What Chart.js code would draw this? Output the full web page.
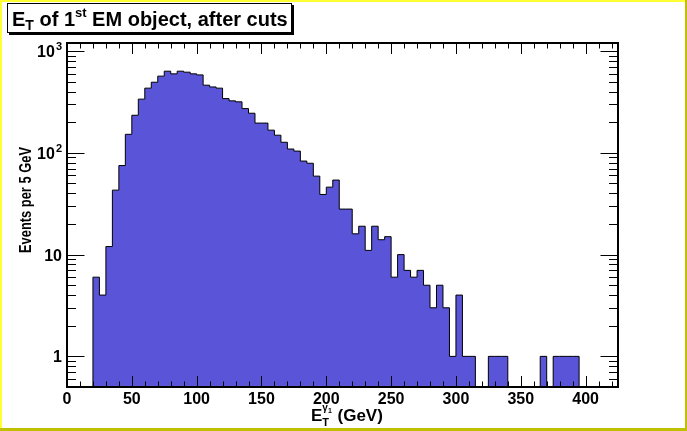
<!DOCTYPE html>
<html><head><meta charset="utf-8">
<script src="https://cdn.jsdelivr.net/npm/chart.js@4/dist/chart.umd.min.js"></script>
<style>html,body{margin:0;padding:0;background:#fff;overflow:hidden}#wrap{width:687px;height:431px;position:relative}canvas{display:block}</style>
</head><body><div id="wrap"><canvas id="c" width="687" height="431"></canvas></div>
<script>
// ---- data ----
const BIN_WIDTH = 5; // GeV
const BIN_LOW_EDGES = [20,25,30,35,40,45,50,55,60,65,70,75,80,85,90,95,100,105,110,115,120,125,130,135,140,145,150,155,160,165,170,175,180,185,190,195,200,205,210,215,220,225,230,235,240,245,250,255,260,265,270,275,280,285,290,295,300,305,310,315,320,325,330,335,340,345,350,355,360,365,370,375,380,385,390,395];
const EVENTS = [6,4,12,43,75,152,234,337,432,494,567,634,597,634,620,597,583,462,444,432,341,324,317,272,245,196,196,167,149,127,109,104,83,79,59,39,46,54,28,28,16,19,11,19,14,15,6,10,7,6,7,5,3,5,3,1,4,1,1,0,0,1,1,1,0,0,0,0,0,1,0,1,1,1,1,0];
const X_TICKS = [0,50,100,150,200,250,300,350,400];
const Y_TICKS = [1,10,100,1000];
const Y_TICK_BASE = ['1','10','10','10'];
const Y_TICK_EXP = ['','','2','3'];
const X_RANGE = [0,425];
const Y_RANGE = [0.5,1200];
const Y_TITLE = 'Events per 5 GeV';

const FONT = '"Liberation Sans", Arial, Helvetica, sans-serif';
const FILL = '#5954d8';

// stepped outline points built from the bins
const points = [{x: BIN_LOW_EDGES[0], y: Y_RANGE[0]}];
BIN_LOW_EDGES.forEach((e,i)=>points.push({x:e, y: Math.max(EVENTS[i], Y_RANGE[0])}));
points.push({x: BIN_LOW_EDGES[BIN_LOW_EDGES.length-1] + BIN_WIDTH, y: Y_RANGE[0]});

function richText(ctx, parts, x, y){
  let cx = x;
  for (const p of parts){
    ctx.font = 'bold ' + p.size + 'px ' + FONT;
    ctx.fillText(p.t, cx, y + (p.dy||0));
    cx += ctx.measureText(p.t).width;
  }
  return cx;
}

const decor = {
  id:'decor',
  beforeDraw(chart){
    const ctx = chart.ctx, W = chart.width, H = chart.height;
    ctx.save();
    ctx.fillStyle = '#ffffff'; ctx.fillRect(0,0,W,H);
    ctx.fillStyle = '#c0c000';
    ctx.fillRect(W-2,0,2,H); ctx.fillRect(0,H-3,W,3);
    ctx.fillStyle = '#ffff33';
    ctx.fillRect(0,0,W-2,2); ctx.fillRect(0,0,2,H-3);
    ctx.restore();
  },
  afterDraw(chart){
    const ctx = chart.ctx, a = chart.chartArea;
    const xs = chart.scales.x, ys = chart.scales.y;
    ctx.save();
    ctx.strokeStyle = '#000'; ctx.lineWidth = 1;
    // x ticks (bottom & top)
    ctx.beginPath();
    for (let v = X_RANGE[0]; v <= X_RANGE[1]; v += 10){
      const px = Math.round(xs.getPixelForValue(v)) + 0.5;
      const len = (v % 50 === 0) ? 11 : 5.5;
      ctx.moveTo(px, a.bottom); ctx.lineTo(px, a.bottom - len);
      ctx.moveTo(px, a.top); ctx.lineTo(px, a.top + len);
    }
    // y ticks (left & right)
    for (let d = 0.1; d <= 1000; d *= 10){
      for (let m = 1; m <= 9; m++){
        const v = d*m;
        if (v < Y_RANGE[0] || v > Y_RANGE[1]) continue;
        const py = Math.round(ys.getPixelForValue(v)) + 0.5;
        const len = (m === 1) ? 17.5 : 9;
        ctx.moveTo(a.left, py); ctx.lineTo(a.left + len, py);
        ctx.moveTo(a.right, py); ctx.lineTo(a.right - len, py);
      }
    }
    ctx.stroke();
    // frame
    ctx.lineWidth = 2;
    ctx.strokeRect(a.left, a.top, a.right - a.left, a.bottom - a.top);

    ctx.fillStyle = '#000'; ctx.textBaseline = 'alphabetic'; ctx.textAlign = 'left';
    // y tick labels (base + superscript exponent)
    Y_TICKS.forEach((v,i)=>{
      const py = ys.getPixelForValue(v);
      ctx.font = 'bold 11px ' + FONT;
      const we = Y_TICK_EXP[i] ? ctx.measureText(Y_TICK_EXP[i]).width : 0;
      ctx.font = 'bold 16px ' + FONT;
      const wb = ctx.measureText(Y_TICK_BASE[i]).width;
      const right = a.left - 5;
      ctx.fillText(Y_TICK_BASE[i], right - we - wb - (we?1:0), py + 6);
      if (we){ ctx.font = 'bold 11px ' + FONT; ctx.fillText(Y_TICK_EXP[i], right - we, py - 1); }
    });
    // y axis title (rotated)
    ctx.save();
    ctx.font = 'bold 15px ' + FONT;
    const tw = ctx.measureText(Y_TITLE).width;
    const target = 106;
    ctx.translate(31, 200);
    ctx.rotate(-Math.PI/2);
    ctx.scale(target/tw, 1.05);
    ctx.textAlign = 'center';
    ctx.fillText(Y_TITLE, 0, 0);
    ctx.restore();

    // title box
    ctx.fillStyle = '#000'; ctx.fillRect(9,5,285,30);
    ctx.fillStyle = '#fff'; ctx.fillRect(7,3,285,30);
    ctx.lineWidth = 1; ctx.strokeRect(7.5,3.5,284,29);
    ctx.fillStyle = '#000';
    richText(ctx, [
      {t:'E', size:20},{t:'T', size:14, dy:4},{t:' of 1', size:20},{t:'st', size:13, dy:-9},
      {t:' EM object, after cuts', size:20}
    ], 12, 26);
    // x axis title
    ctx.font = 'bold 17px ' + FONT;
    let x0 = 311, yb = 421;
    ctx.fillText('E', x0, yb); x0 += ctx.measureText('E').width;
    ctx.font = 'bold 11px ' + FONT;
    ctx.fillText('T', x0, yb + 5);
    const wT = ctx.measureText('T').width;
    ctx.font = 'bold 10px ' + FONT;
    ctx.fillText('\u03B3', x0, yb - 10);
    const wg = ctx.measureText('\u03B3').width;
    ctx.font = 'bold 7px ' + FONT;
    ctx.fillText('1', x0 + wg, yb - 8);
    x0 += Math.max(wT, wg + ctx.measureText('1').width) + 1;
    ctx.font = 'bold 17px ' + FONT;
    ctx.fillText(' (GeV)', x0, yb);
    ctx.restore();
  }
};

new Chart(document.getElementById('c'), {
  type:'line',
  data:{datasets:[{
    data: points,
    stepped: true,
    borderColor:'#000', borderWidth:1,
    backgroundColor: FILL,
    fill:'start',
    pointRadius:0, tension:0
  }]},
  options:{
    responsive:false, animation:false, devicePixelRatio:1,
    layout:{padding:{top:43,right:69,bottom:0,left:0}},
    plugins:{legend:{display:false}, tooltip:{enabled:false}},
    scales:{
      x:{type:'linear', min:X_RANGE[0], max:X_RANGE[1],
        afterBuildTicks:s=>{s.ticks = X_TICKS.map(v=>({value:v}));},
        afterFit:s=>{s.height = 44;},
        grid:{display:false, drawTicks:false}, border:{display:false},
        ticks:{color:'#000', font:{family:FONT, weight:'bold', size:16}, padding:3, maxRotation:0, autoSkip:false}
      },
      y:{type:'logarithmic', min:Y_RANGE[0], max:Y_RANGE[1],
        afterBuildTicks:s=>{s.ticks = Y_TICKS.map(v=>({value:v}));},
        afterFit:s=>{s.width = 67;},
        grid:{display:false, drawTicks:false}, border:{display:false},
        ticks:{display:false}
      }
    }
  },
  plugins:[decor]
});
</script></body></html>
